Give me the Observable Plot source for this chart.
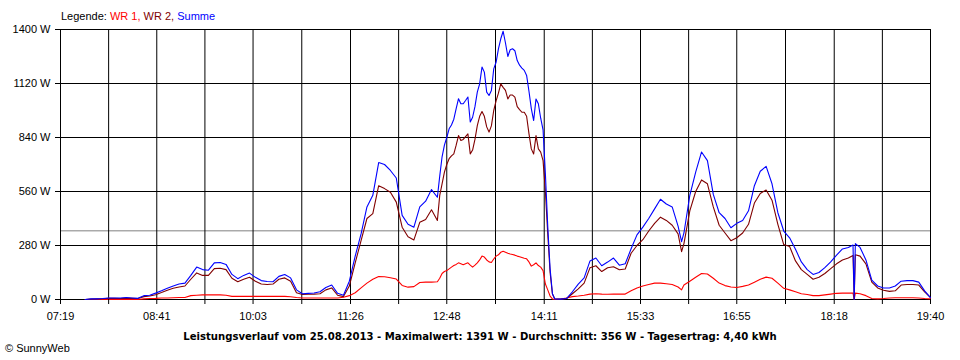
<!DOCTYPE html>
<html>
<head>
<meta charset="utf-8">
<script src="https://cdn.jsdelivr.net/npm/d3@7"></script>
<script src="https://cdn.jsdelivr.net/npm/@observablehq/plot@0.6"></script>
<style>
  html, body { margin: 0; padding: 0; background: #fff; }
  #wrap { position: relative; width: 960px; height: 360px; font-family: "Liberation Sans", Arial, sans-serif; }
  #chart { position: absolute; left: 0; top: 0; }
  .txt { position: absolute; font-size: 11px; line-height: 11px; white-space: nowrap; color: #000; }
  #legend { left: 61px; top: 11px; }
  #caption { left: 0; width: 960px; text-align: center; top: 331px; font-weight: bold; font-size: 10.1px; font-family: "DejaVu Sans", Verdana, sans-serif; }
  #copy { left: 5px; top: 343px; }
</style>
</head>
<body>
<div id="wrap">
  <div id="chart"></div>
  <div id="legend" class="txt">Legende: <span style="color:#ff0000">WR 1,</span> <span style="color:#800000">WR 2,</span> <span style="color:#0000ff">Summe</span></div>
  <div id="caption" class="txt">Leistungsverlauf vom 25.08.2013 - Maximalwert: 1391 W - Durchschnitt: 356 W - Tagesertrag: 4,40 kWh</div>
  <div id="copy" class="txt">© SunnyWeb</div>
</div>
<script>
// ---- data ----
const tickLabels = ["07:19","08:41","10:03","11:26","12:48","14:11","15:33","16:55","18:18","19:40"];
const yTicks = [0, 280, 560, 840, 1120, 1400];
const average = 356;

const times = [
"07:40","07:45","07:50","07:55","08:00","08:05","08:10","08:15","08:20","08:25",
"08:30","08:35","08:40","08:45","08:50","08:55","09:00","09:05","09:10","09:15",
"09:20","09:25","09:30","09:35","09:40","09:45","09:50","09:55","10:00","10:05",
"10:10","10:15","10:20","10:25","10:30","10:35","10:40","10:45","10:50","10:55",
"11:00","11:05","11:10","11:15","11:20","11:25","11:30","11:35","11:40","11:45",
"11:50","11:55","12:00","12:05","12:10","12:15","12:20","12:25","12:30","12:35",
"12:40","12:42","12:44","12:46","12:48","12:50","12:52","12:54","12:56","12:58",
"13:00","13:02","13:04","13:06","13:08","13:10","13:12","13:14","13:16","13:18",
"13:20","13:22","13:24","13:26","13:28","13:30","13:32","13:34","13:36","13:38",
"13:40","13:42","13:44","13:46","13:48","13:50","13:52","13:54","13:56","13:58",
"14:00","14:02","14:04","14:06","14:08","14:10","14:12","14:14","14:16","14:18",
"14:20","14:25","14:30","14:35","14:40","14:45","14:50","14:55","15:00","15:05",
"15:10","15:15","15:20","15:25","15:30","15:35","15:40","15:45","15:50","15:55",
"16:00","16:05","16:08","16:10","16:15","16:20","16:25","16:30","16:35","16:40",
"16:45","16:50","16:55","17:00","17:05","17:10","17:15","17:20","17:25","17:30",
"17:35","17:40","17:45","17:50","17:55","18:00","18:05","18:10","18:15","18:20",
"18:25","18:30","18:34","18:35","18:36","18:40","18:45","18:50","18:55","19:00",
"19:05","19:10","19:15","19:20","19:25","19:30","19:35","19:40"
];

// WR 1 (red)
const wr1 = [
0,0,0,0,0,0,0,0,0,0,
3,5,6,8,8,9,10,10,20,22,
24,24,24,24,22,16,16,16,16,16,
16,16,16,16,16,14,10,8,8,8,
8,8,8,8,12,20,35,60,85,105,
119,118,113,106,73,64,67,88,90,90,
92,110,135,145,150,159,168,176,182,190,
185,180,185,190,178,168,178,190,205,225,
220,205,195,192,210,225,232,245,250,245,
240,236,233,230,225,222,218,214,211,195,
173,180,190,176,168,150,80,50,18,3,
0,2,8,15,18,22,28,30,28,27,
28,28,28,45,60,70,78,85,85,82,
78,65,50,75,95,115,135,132,110,85,
72,65,62,68,75,90,105,116,110,85,
58,50,40,30,26,20,20,24,28,32,
33,33,33,0,33,30,20,5,3,5,
8,9,9,9,9,8,5,3
];

// WR 2 (dark red)
const wr2 = [
0,2,3,4,6,6,5,7,6,5,
15,18,25,36,48,58,65,70,105,138,
125,125,160,162,155,110,92,105,115,95,
80,78,80,105,112,95,35,26,27,28,
30,50,60,22,15,70,190,305,420,445,
590,575,556,505,375,325,309,400,415,465,
410,540,600,660,700,730,745,755,800,850,
825,830,845,859,755,775,830,902,950,975,
950,895,868,900,980,1030,1070,1118,1100,1084,
1040,1060,1060,1049,1000,985,971,971,950,860,
781,755,850,781,764,720,560,340,140,28,
3,2,5,30,55,85,165,175,145,165,
170,154,158,240,280,310,355,395,427,410,
385,340,248,290,460,560,620,600,480,385,
345,305,320,345,390,500,550,568,515,390,
285,275,200,155,130,105,115,135,160,185,
205,215,228,0,232,225,185,90,60,48,
42,45,75,78,78,75,40,10
];

// Summe (blue)
const summe = [
0,3,3,5,8,8,8,10,8,6,
20,22,33,45,58,70,80,85,125,168,
155,152,190,192,182,130,108,125,137,115,
98,93,92,120,130,112,50,30,32,34,
40,62,75,32,22,95,225,340,480,540,
710,700,669,630,436,390,375,480,510,570,
530,640,740,800,840,885,905,935,990,1041,
1015,1015,1032,1050,920,945,1000,1075,1118,1205,
1179,1075,1058,1084,1196,1230,1300,1352,1391,1330,
1260,1295,1300,1290,1239,1215,1200,1188,1162,1080,
990,928,1040,1015,940,880,650,380,160,30,
3,2,5,40,80,112,200,215,175,194,
215,178,185,263,335,375,420,470,520,495,
480,380,300,345,540,660,765,720,545,450,
420,372,395,410,460,590,665,690,600,450,
355,320,260,195,155,130,140,165,195,230,
262,270,282,0,290,270,205,100,70,60,
60,70,95,98,98,90,45,10
];

// ---- build ----
const toMin = s => { const [h, m] = s.split(":").map(Number); return h * 60 + m; };
const tickMin = tickLabels.map(toMin);
const gridMin = [];
tickMin.forEach((m, i) => { gridMin.push(m); if (i < tickMin.length - 1) gridMin.push((m + tickMin[i + 1]) / 2); });
const labelOf = new Map(tickMin.map((m, i) => [m, tickLabels[i]]));

const rows = (arr, name) => times.map((t, i) => ({ t: toMin(t), v: arr[i], s: name }));
const dWR1 = rows(wr1, "WR 1");
const dWR2 = rows(wr2, "WR 2");
const dSum = rows(summe, "Summe");

const chart = Plot.plot({
  width: 960,
  height: 360,
  marginLeft: 60,
  marginRight: 30,
  marginTop: 29,
  marginBottom: 61,
  x: { domain: [tickMin[0], tickMin[tickMin.length - 1]] },
  y: { domain: [yTicks[0], yTicks[yTicks.length - 1]] },
  style: { fontFamily: '"Liberation Sans", Arial, sans-serif', fontSize: "11px", color: "#000", background: "transparent" },
  marks: [
    Plot.ruleY([average], { stroke: "#808080", strokeWidth: 1 }),
    Plot.ruleX(gridMin, { stroke: "#000", strokeWidth: 1 }),
    Plot.ruleY(yTicks, { stroke: "#000", strokeWidth: 1 }),
    Plot.line(dWR1, { x: "t", y: "v", stroke: "#ff0000", strokeWidth: 1.1 }),
    Plot.line(dWR2, { x: "t", y: "v", stroke: "#800000", strokeWidth: 1.1 }),
    Plot.line(dSum, { x: "t", y: "v", stroke: "#0000ff", strokeWidth: 1.1 }),
    Plot.axisY({ ticks: yTicks, tickFormat: d => `${d} W`, tickSize: 5, tickPadding: 5, label: null, stroke: "#000" }),
    Plot.axisX({ ticks: gridMin, tickFormat: m => labelOf.get(m) ?? "", tickSize: 5, tickPadding: 8, label: null, stroke: "#000" })
  ]
});
document.getElementById("chart").appendChild(chart);
</script>
</body>
</html>
